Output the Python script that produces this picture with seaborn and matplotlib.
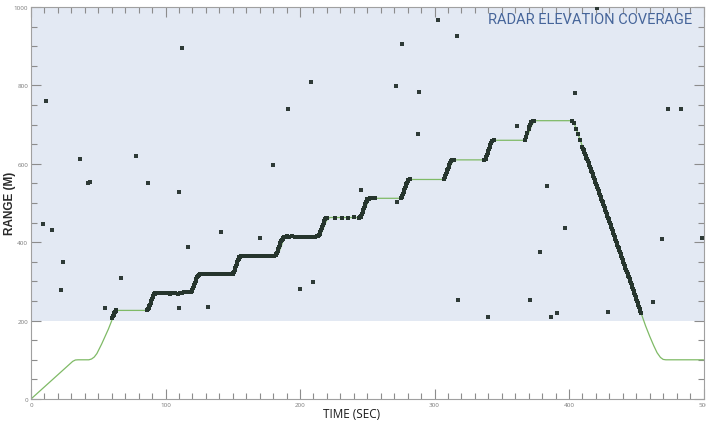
import numpy as np
import pandas as pd
import seaborn as sns
import matplotlib
matplotlib.use("Agg")
import matplotlib.pyplot as plt
from matplotlib.ticker import MultipleLocator

# flight path (green line), vertices
path_time = [0, 31, 33, 35, 43, 45, 47, 49, 52.5, 57.5, 60.5, 62, 63.5, 65,
             86, 87.5, 89.5, 91.5, 93, 94.5,
             119, 120.5, 122.5, 124, 125.5, 127,
             150, 151.5, 153.5, 155, 156.5, 158,
             182.5, 184, 186, 187.5, 189, 190.5,
             214, 215.5, 217.5, 219.5, 221, 222.5,
             245, 246.5, 248.5, 250.5, 252, 253.5,
             275, 276.5, 278.5, 280, 281.5, 283,
             307, 308.5, 310.5, 312.5, 314, 315.5,
             337, 338.5, 340.5, 342.5, 344, 345.5,
             367, 368.5, 370.5, 372.5, 374, 375.5,
             402, 404, 412, 429, 453.5, 457, 460, 463, 465.5, 468, 470, 472, 500]
path_range = [0, 96, 99.5, 100, 100, 102, 107, 116, 140, 178, 204, 218, 225, 226,
              226, 231, 247, 262, 269, 271,
              271, 277, 293, 309, 316, 318,
              318, 324, 341, 357, 364, 366,
              366, 372, 389, 405, 412, 414,
              414, 420, 437, 454, 461, 463,
              463, 469, 486, 503, 510, 512,
              512, 518, 535, 550, 558, 560,
              560, 566, 583, 600, 607, 610,
              610, 616, 633, 650, 657, 660,
              660, 666, 683, 700, 707, 710,
              710, 702, 625, 463, 220, 186, 160, 136, 118, 106, 101, 100, 100]

# radar track detections (dark points)
track_time = [60.5, 61, 61.5, 62, 62.5, 63, 63.5,
              86, 86.5, 87, 87.5, 88, 88.5, 89, 89.5, 90, 90.5, 91, 91.5, 92, 92.5, 93.5,
              95, 97, 98.5, 100, 101.5, 103, 105, 107, 109, 111, 112.5, 114, 115.5, 117, 118.5,
              119, 119.5, 120, 120.5, 121, 121.5, 122, 122.5, 123, 123.5, 124, 124.5, 125, 125.5,
              126.5, 128, 129.5, 131, 132.5, 134, 135.5, 137, 138.5, 140, 141.5, 143, 144.5, 146, 147.5, 149,
              150, 150.5, 151, 151.5, 152, 152.5, 153, 153.5, 154, 154.5, 155, 155.5, 156, 156.5,
              158, 159.5, 161, 162.5, 164, 165.5, 167, 168.5, 170, 171.5, 173, 174.5, 176, 177.5, 179, 180.5,
              182, 182.5, 183, 183.5, 184, 184.5, 185, 185.5, 186, 186.5, 187, 187.5, 188, 189,
              190.5, 192, 194, 196, 199, 201, 203, 205, 207, 209, 211, 212.5,
              213.5, 214, 214.5, 215, 215.5, 216, 216.5, 217, 217.5, 218, 218.5, 219, 220,
              226, 231, 236, 240, 243.5,
              244.5, 245, 245.5, 246, 246.5, 247, 247.5, 248, 248.5, 249, 249.5, 250, 251, 252,
              253.5, 254.5, 255.5,
              275, 275.5, 276, 276.5, 277, 277.5, 278, 278.5, 279, 279.5, 280, 280.5, 281.5,
              307, 307.5, 308, 308.5, 309, 309.5, 310, 310.5, 311, 311.5, 312, 313, 314.5,
              337, 338, 338.5, 339, 339.5, 340, 340.5, 341, 341.5, 342, 343, 344,
              367, 368, 369, 370, 370.5, 371, 371.5, 372, 373, 374,
              402.5, 403.5, 405.5, 407, 408.5,
              410, 411, 412, 413, 414, 415, 416, 417, 418, 419, 420, 421, 422, 423, 424, 425,
              426, 427, 428, 429, 430, 431, 432, 433, 434, 435, 436, 437, 438, 439, 440, 441,
              442, 443, 444, 445, 446, 447, 448, 449, 450, 451, 452, 453, 453.5]
track_range = [207, 211, 215, 219, 222, 225, 226,
               226, 227, 229, 232, 236, 241, 246, 251, 256, 260, 264, 267, 269, 270, 271,
               271, 271, 270, 270, 270, 269, 270, 270, 269, 271, 271, 272, 272, 272, 272,
               273, 275, 278, 282, 287, 292, 297, 302, 306, 310, 313, 315, 317, 318,
               318, 318, 318, 318, 318, 318, 318, 318, 318, 318, 318, 318, 318, 318, 319, 319,
               319, 321, 324, 329, 334, 339, 344, 349, 354, 358, 361, 363, 365, 366,
               366, 366, 366, 366, 366, 366, 365, 366, 366, 365, 365, 365, 366, 366, 366, 366,
               367, 369, 372, 377, 382, 387, 392, 397, 402, 406, 409, 411, 413, 414,
               415, 414, 415, 414, 413, 413, 414, 413, 414, 414, 414, 415,
               416, 418, 421, 425, 430, 435, 440, 445, 450, 454, 458, 461, 463,
               462, 463, 463, 464, 463,
               464, 465, 468, 472, 477, 482, 487, 492, 497, 502, 506, 509, 511, 512,
               513, 513, 513,
               513, 516, 519, 523, 528, 533, 538, 543, 548, 552, 556, 558, 560,
               562, 566, 570, 574, 578, 583, 588, 593, 598, 602, 606, 609, 610,
               610, 613, 617, 622, 627, 632, 637, 642, 647, 652, 657, 660,
               661, 668, 678, 688, 694, 699, 703, 706, 709, 710,
               709, 703, 688, 675, 661,
               644, 634, 625, 616, 606, 596, 587, 578, 568, 558, 549, 540, 530, 520, 511, 502,
               492, 482, 473, 463, 453, 443, 433, 424, 414, 404, 394, 384, 374, 364, 354, 344,
               334, 324, 314, 305, 295, 285, 275, 265, 255, 245, 235, 225, 220]

# extra detections on the fast descent (half-second returns)
descent_time = [410.5, 411.5, 412.5, 413.5, 414.5, 415.5, 416.5, 417.5, 418.5, 419.5, 420.5,
                421.5, 422.5, 423.5, 424.5, 425.5, 426.5, 427.5, 428.5, 429.5, 430.5, 431.5,
                432.5, 433.5, 434.5, 435.5, 436.5, 437.5, 438.5, 439.5, 440.5, 441.5, 442.5,
                443.5, 444.5, 445.5, 446.5, 447.5, 448.5, 449.5, 450.5, 451.5, 452.5]
descent_range = [639, 630, 620, 611, 601, 592, 582, 573, 563, 554, 544,
                 535, 525, 516, 506, 497, 487, 478, 468, 458, 448, 438,
                 428, 419, 409, 399, 389, 379, 369, 359, 349, 339, 329,
                 319, 310, 300, 290, 280, 270, 260, 250, 240, 230]

# stray returns
stray_time = [11, 36.4, 42.6, 44.1, 78, 87.2, 110, 112.5, 179.7, 190.8, 208,
              9.2, 15.9, 23.5, 22.3, 66.7, 55.3, 110, 116.5, 131.6, 141.5, 170, 200.2, 210,
              302.8, 316.5, 275.6, 271.4, 288.2, 287.7, 361.6, 245.6, 271.9, 383.4, 404.7,
              473.4, 483.3, 420.6,
              317.2, 339.5, 371.2, 378.2, 386.8, 390.8, 397, 429.2, 462.7, 469.4, 499.1]
stray_range = [760, 612, 551, 553, 619, 550, 527, 895, 596, 740, 809,
               446, 432, 349, 278, 308, 231, 231, 389, 235, 425, 411, 281, 298,
               967, 925, 905, 799, 783, 675, 697, 534, 502, 544, 780,
               741, 741, 998,
               252, 208, 252, 376, 208, 219, 435, 222, 248, 409, 411]

path = pd.DataFrame({"time": path_time, "range": path_range})
track = pd.DataFrame({"time": track_time + descent_time, "range": track_range + descent_range})
strays = pd.DataFrame({"time": stray_time, "range": stray_range})

sns.set_style("ticks")
plt.rcParams["font.family"] = ["Open Sans", "DejaVu Sans"]

fig = plt.figure(figsize=(7.06, 4.27), dpi=100)
ax = fig.add_axes([31 / 706, 27 / 427, 672.5 / 706, 392 / 427])

ax.axhspan(200, 1000, color="#e3e9f3", lw=0, zorder=0)
sns.lineplot(data=path, x="time", y="range", sort=False, color="#7fba66", lw=0.9, ax=ax, zorder=2)
sns.scatterplot(data=track, x="time", y="range", marker="s", s=6, color="#26352d",
                linewidth=0, ax=ax, zorder=3)
sns.scatterplot(data=strays, x="time", y="range", marker="s", s=5, color="#2e3a36",
                linewidth=0, ax=ax, zorder=3)

ax.set_xlim(0, 500)
ax.set_ylim(0, 1000)
ax.xaxis.set_major_locator(MultipleLocator(100))
ax.xaxis.set_minor_locator(MultipleLocator(10))
ax.yaxis.set_major_locator(MultipleLocator(200))
ax.yaxis.set_minor_locator(MultipleLocator(50))
ax.tick_params(which="both", direction="in", top=True, right=True, color="#8c8c8c", width=0.8)
ax.tick_params(which="major", length=7, labelsize=4.5, labelcolor="#7a7a7a", pad=2)
ax.tick_params(which="minor", length=4)
for sp in ax.spines.values():
    sp.set_color("#a0a0a0")
    sp.set_linewidth(0.8)

ax.set_xlabel("TIME (SEC)", fontsize=8.5, color="#1a1a1a")
ax.xaxis.set_label_coords((352 - 31) / 672.5, (400 - 408) / 392)
ax.set_ylabel("RANGE (M)", fontsize=8.5, fontweight="bold", color="#2a2a2a",
              family=["Liberation Sans", "DejaVu Sans"])
ax.yaxis.set_label_coords((16 - 31) / 672.5, (400 - 203) / 392)

ax.text((692 - 31) / 672.5, (400 - 20) / 392, "RADAR ELEVATION COVERAGE", transform=ax.transAxes,
        ha="right", va="center", fontsize=10.5, color="#46659a", family=["Roboto", "DejaVu Sans"])

fig.savefig("out.png", dpi=100)
